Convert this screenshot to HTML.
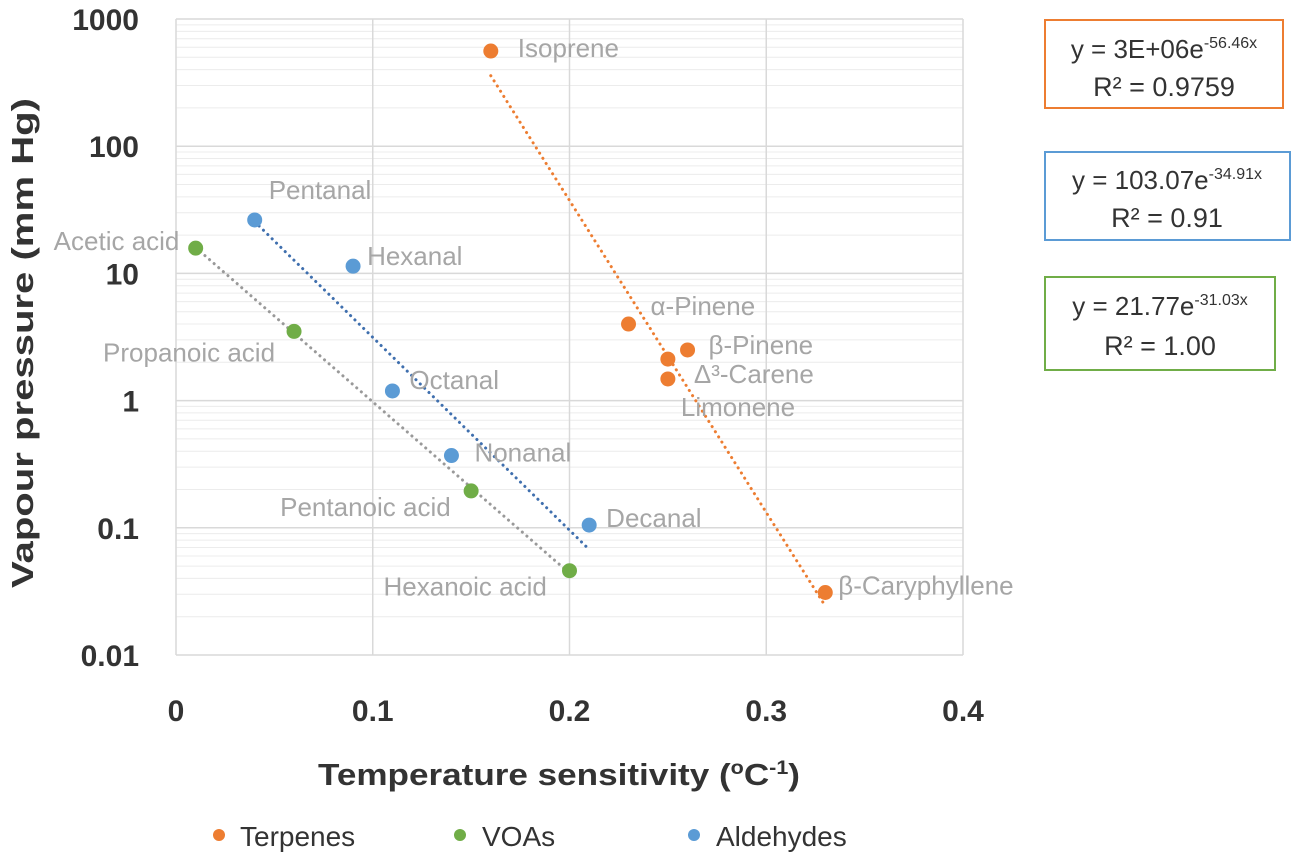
<!DOCTYPE html>
<html><head><meta charset="utf-8"><style>
body{margin:0;background:#fff;width:1295px;height:863px;overflow:hidden;font-family:"Liberation Sans",sans-serif}
</style></head><body>
<svg id="chart" width="1295" height="863" xmlns="http://www.w3.org/2000/svg" font-family="Liberation Sans, sans-serif">
<g id="grid"></g>
<g id="trends"></g>
<g id="marks"></g>
<g id="ticks"></g>
<text x="318" y="785" textLength="482" lengthAdjust="spacingAndGlyphs" font-size="31" font-weight="bold" fill="#333">Temperature sensitivity (<tspan font-size="19" dy="-11">o</tspan><tspan dy="11">C</tspan><tspan font-size="19" dy="-11">-1</tspan><tspan dy="11">)</tspan></text>
<text transform="translate(33,343) rotate(-90)" text-anchor="middle" textLength="490" lengthAdjust="spacingAndGlyphs" font-size="31" font-weight="bold" fill="#333">Vapour pressure (mm Hg)</text>
<g>
<rect x="1045" y="20" width="238" height="88" fill="#fff" stroke="#ed7d31" stroke-width="2"/>
<text x="1164" y="58" text-anchor="middle" font-size="26" fill="#333">y = 3E+06e<tspan font-size="16" dy="-10">-56.46x</tspan></text>
<text x="1164" y="96" text-anchor="middle" font-size="27" fill="#333">R² = 0.9759</text></g>
<g>
<rect x="1045" y="152" width="245" height="88" fill="#fff" stroke="#5b9bd5" stroke-width="2"/>
<text x="1167" y="189" text-anchor="middle" font-size="26" fill="#333">y = 103.07e<tspan font-size="16" dy="-10">-34.91x</tspan></text>
<text x="1167" y="227" text-anchor="middle" font-size="27" fill="#333">R² = 0.91</text></g>
<g>
<rect x="1045" y="277" width="230" height="93" fill="#fff" stroke="#70ad47" stroke-width="2"/>
<text x="1160" y="315" text-anchor="middle" font-size="26" fill="#333">y = 21.77e<tspan font-size="16" dy="-10">-31.03x</tspan></text>
<text x="1160" y="355" text-anchor="middle" font-size="27" fill="#333">R² = 1.00</text></g>
<g>
<circle cx="219" cy="835" r="6" fill="#ed7d31"/>
<text x="240" y="846" font-size="28" fill="#333">Terpenes</text>
<circle cx="460" cy="835" r="6" fill="#70ad47"/>
<text x="482" y="846" font-size="28" fill="#333">VOAs</text>
<circle cx="694" cy="835" r="6" fill="#5b9bd5"/>
<text x="716" y="846" font-size="28" fill="#333">Aldehydes</text>
</g>
</svg>
<script>
const terpX=[0.16,0.23,0.26,0.25,0.25,0.33];
const terpY=[560,4.0,2.5,2.12,1.48,0.031];
const terpLabels=["Isoprene","α-Pinene","β-Pinene","Δ³-Carene","Limonene","β-Caryphyllene"];
const aldX=[0.04,0.09,0.11,0.14,0.21];
const aldY=[26.3,11.4,1.19,0.37,0.105];
const aldLabels=["Pentanal","Hexanal","Octanal","Nonanal","Decanal"];
const voaX=[0.01,0.06,0.15,0.2];
const voaY=[15.8,3.5,0.195,0.046];
const voaLabels=["Acetic acid","Propanoic acid","Pentanoic acid","Hexanoic acid"];
const fitA=[3e6,103.07,21.77];
const fitB=[-56.46,-34.91,-31.03];
const xTicks=[0,0.1,0.2,0.3,0.4];
const xTickLabels=["0","0.1","0.2","0.3","0.4"];
const yTicks=[0.01,0.1,1,10,100,1000];
const yTickLabels=["0.01","0.1","1","10","100","1000"];

const L=176,R=963,T=19,B=655;
const sx=v=>L+(v-0)/0.4*(R-L);
const sy=v=>B-(Math.log10(v)+2)/5*(B-T);
const NS="http://www.w3.org/2000/svg";
function mk(tag,parent,attrs){const e=document.createElementNS(NS,tag);for(const k in attrs)e.setAttribute(k,attrs[k]);parent.appendChild(e);return e;}
const grid=document.getElementById('grid'),ticks=document.getElementById('ticks'),marks=document.getElementById('marks'),trends=document.getElementById('trends');
for(let d=-2;d<3;d++){for(let m=2;m<10;m++){const y=sy(m*Math.pow(10,d));const l=mk('line',grid,{x1:L,x2:R,y1:y,y2:y,stroke:'#ececec','stroke-width':1});

}}
yTicks.forEach((v,i)=>{const y=sy(v);const l=mk('line',grid,{x1:L,x2:R,y1:y,y2:y,stroke:'#d9d9d9','stroke-width':1.5});


const t=mk('text',ticks,{x:139,y:y+11,'text-anchor':'end','font-size':30,'font-weight':'bold',fill:'#333'});t.textContent=yTickLabels[i];

});
xTicks.forEach((v,i)=>{const x=sx(v);const l=mk('line',grid,{x1:x,x2:x,y1:T,y2:B,stroke:'#d9d9d9','stroke-width':1.5});


const t=mk('text',ticks,{x:x,y:721,'text-anchor':'middle','font-size':30,'font-weight':'bold',fill:'#333'});t.textContent=xTickLabels[i];

});
const series=[
 {xs:terpX,ys:terpY,labels:terpLabels,color:'#ed7d31',trend:'#ed7d31',name:'terpenes',off:[[27,-3],[22,-18],[21,-5],[26,15],[13,28],[13,-7]]},
 {xs:aldX,ys:aldY,labels:aldLabels,color:'#5b9bd5',trend:'#3f6fae',name:'aldehydes',off:[[14,-30],[14,-10],[17,-11],[23,-3],[17,-7]]},
 {xs:voaX,ys:voaY,labels:voaLabels,color:'#70ad47',trend:'#999999',name:'voas',off:[[-142,-7],[-191,21],[-191,16],[-186,16]]}
];
series.forEach((s,k)=>{
 const x0=Math.min(...s.xs),x1=Math.max(...s.xs);let d='';
 for(let i=0;i<=40;i++){const x=x0+(x1-x0)*i/40;const y=fitA[k]*Math.exp(fitB[k]*x);d+=(i?'L':'M')+sx(x).toFixed(1)+','+sy(y).toFixed(1);}
 const p=mk('path',trends,{d:d,fill:'none',stroke:s.trend,'stroke-width':3,'stroke-dasharray':'0.1 6','stroke-linecap':'round'});
 
 
 s.xs.forEach((xv,i)=>{const cx=sx(xv),cy=sy(s.ys[i]);
  const c=mk('circle',marks,{cx:cx,cy:cy,r:7.5,fill:s.color});
  
  
  const t=mk('text',marks,{x:cx+s.off[i][0],y:cy+s.off[i][1]+9,'font-size':26,fill:'#a6a6a6'});t.textContent=s.labels[i];
  
  });
});
</script>
</body></html>
